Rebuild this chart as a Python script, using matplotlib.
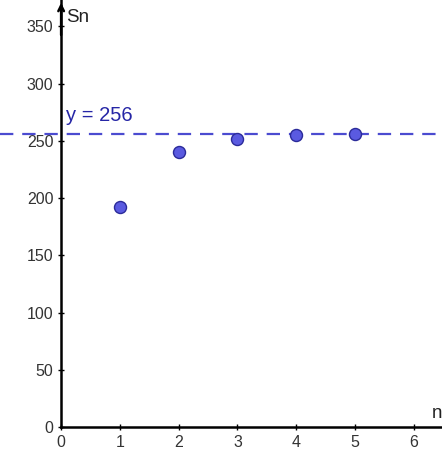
import matplotlib.pyplot as plt

plt.rcParams['font.family'] = ['Liberation Sans', 'DejaVu Sans']

n_values = [1, 2, 3, 4, 5]
sn_values = [192, 240, 252, 255, 255.75]
limit_value = 256
x_ticks = [0, 1, 2, 3, 4, 5, 6]
y_ticks = [0, 50, 100, 150, 200, 250, 300, 350]


def main():
    fig = plt.figure(figsize=(4.42, 4.53), dpi=100)
    ax = fig.add_axes([0, 0, 1, 1])
    ax.set_xlim(-1.04, 6.48)
    ax.set_ylim(-22.7, 373)

    # axes through the origin, like GeoGebra
    ax.spines['left'].set_position(('data', 0))
    ax.spines['bottom'].set_position(('data', 0))
    ax.spines['left'].set_bounds(0, 373)
    ax.spines['bottom'].set_bounds(0, 6.48)
    ax.spines['right'].set_visible(False)
    ax.spines['top'].set_visible(False)
    for s in ('left', 'bottom'):
        ax.spines[s].set_linewidth(1.8)
    ax.set_xticks(x_ticks)
    ax.set_yticks(y_ticks)
    ax.tick_params(direction='inout', length=5, width=1, labelsize=11.5,
                   labelcolor='#333333', pad=3)

    # arrow at the top of the y axis
    ax.annotate('', xy=(0, 373), xytext=(0, 340),
                arrowprops=dict(arrowstyle='->', lw=1.8, color='black'))
    ax.text(0.08, 358, 'Sn', fontsize=13.5, va='center', color='#222222')
    ax.text(6.3, 12, 'n', fontsize=13.5, va='center', color='#222222')

    # limit line
    ax.axhline(limit_value, color='#4b4bd0', lw=1.6, dashes=(6, 4))
    ax.text(0.08, 272, 'y = 256', fontsize=14.5, color='#2626a6', va='center')

    ax.scatter(n_values, sn_values, s=75, color='#5a5ae0',
               edgecolor='#2b2b9a', linewidth=1, zorder=3)

    fig.savefig('out.png', dpi=100)


main()
